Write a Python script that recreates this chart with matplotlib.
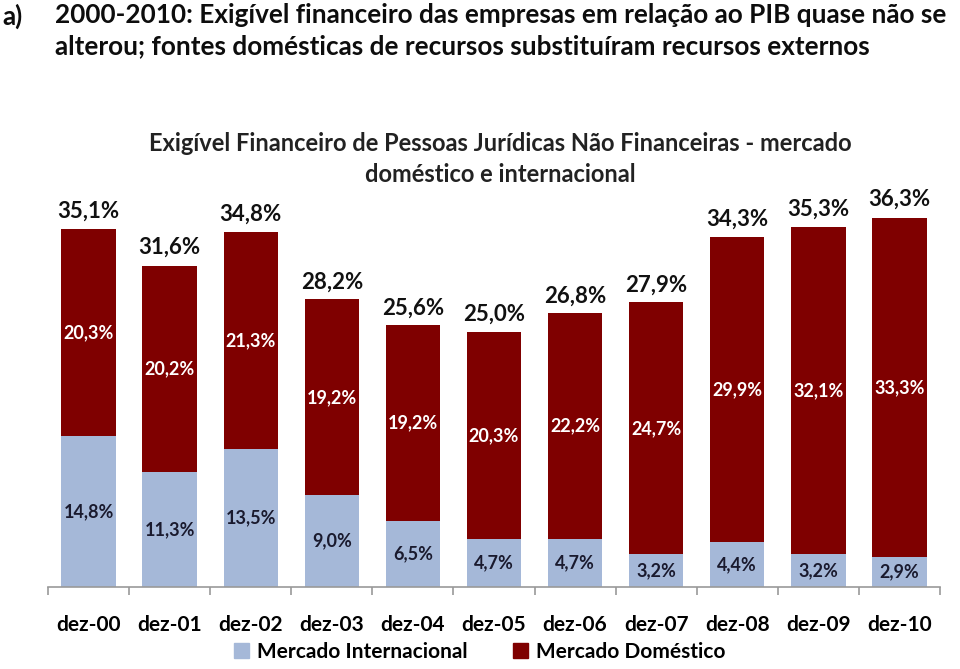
import numpy as np
import matplotlib
matplotlib.use('Agg')
from matplotlib import pyplot as plt
from matplotlib.patches import Patch

categories = ['dez-00', 'dez-01', 'dez-02', 'dez-03', 'dez-04', 'dez-05',
              'dez-06', 'dez-07', 'dez-08', 'dez-09', 'dez-10']
internacional = [14.8, 11.3, 13.5, 9.0, 6.5, 4.7, 4.7, 3.2, 4.4, 3.2, 2.9]
domestico = [20.3, 20.2, 21.3, 19.2, 19.2, 20.3, 22.2, 24.7, 29.9, 32.1, 33.3]
totais = [35.1, 31.6, 34.8, 28.2, 25.6, 25.0, 26.8, 27.9, 34.3, 35.3, 36.3]

heading = ('2000-2010: Exigível financeiro das empresas em relação ao PIB quase não se\n'
           'alterou; fontes domésticas de recursos substituíram recursos externos')
chart_title = 'Exigível Financeiro de Pessoas Jurídicas Não Financeiras - mercado\ndoméstico e internacional'

cor_int = '#A5B8D8'
cor_dom = '#7F0000'


def fmt(v):
    return '{:.1f}%'.format(v).replace('.', ',')


plt.rcParams['font.family'] = ['Lato', 'DejaVu Sans']

fig = plt.figure(figsize=(9.6, 6.69), dpi=100)
ax = fig.add_axes([48 / 960, 82 / 669, 892 / 960, 408 / 669])

x = np.arange(len(categories))
ax.bar(x, internacional, width=0.67, color=cor_int)
ax.bar(x, domestico, width=0.67, bottom=internacional, color=cor_dom)

for i in range(len(categories)):
    ax.text(x[i], internacional[i] / 2, fmt(internacional[i]), ha='center', va='center',
            fontsize=13, fontweight='bold', color='#1a1a2e')
    ax.text(x[i], internacional[i] + domestico[i] / 2, fmt(domestico[i]), ha='center', va='center',
            fontsize=13, fontweight='bold', color='white')
    ax.annotate(fmt(totais[i]), (x[i], totais[i]), xytext=(0, 5), textcoords='offset points',
                ha='center', va='bottom', fontsize=16, fontweight='bold', color='#111111')

ax.set_xlim(-0.5, len(categories) - 0.5)
ax.set_ylim(0, 40)
ax.set_yticks([])
for s in ['top', 'right', 'left']:
    ax.spines[s].set_visible(False)
ax.spines['bottom'].set_color('#999999')
ax.spines['bottom'].set_linewidth(1.2)

ax.set_xticks(np.arange(-0.5, len(categories), 1.0))
ax.set_xticklabels([])
ax.tick_params(axis='x', which='major', length=6, color='#999999', width=1.2, direction='out')
ax.set_xticks(x, minor=True)
ax.set_xticklabels(categories, minor=True, fontsize=15, fontweight='bold')
ax.tick_params(axis='x', which='minor', length=0, pad=20)

fig.text(0.002, 0.995, 'a)', ha='left', va='top', fontsize=18.8, fontweight='bold',
         color='#0d0d0d')
fig.text(55 / 960, 0.995, heading, ha='left', va='top', fontsize=18.8, fontweight='bold',
         color='#0d0d0d', linespacing=1.35)
fig.text(500 / 960, 0.803, chart_title, ha='center', va='top', fontsize=17, fontweight='bold',
         color='#222222', linespacing=1.45)

handles = [Patch(color=cor_int, label='Mercado Internacional'),
           Patch(color=cor_dom, label='Mercado Doméstico')]
fig.legend(handles=handles, loc='lower center', bbox_to_anchor=(0.5, -0.017), ncol=2,
           frameon=False, prop={'size': 15, 'weight': 'bold'}, handlelength=0.7,
           handleheight=0.7, handletextpad=0.4, columnspacing=2.2)

fig.savefig('out.png', dpi=100)
